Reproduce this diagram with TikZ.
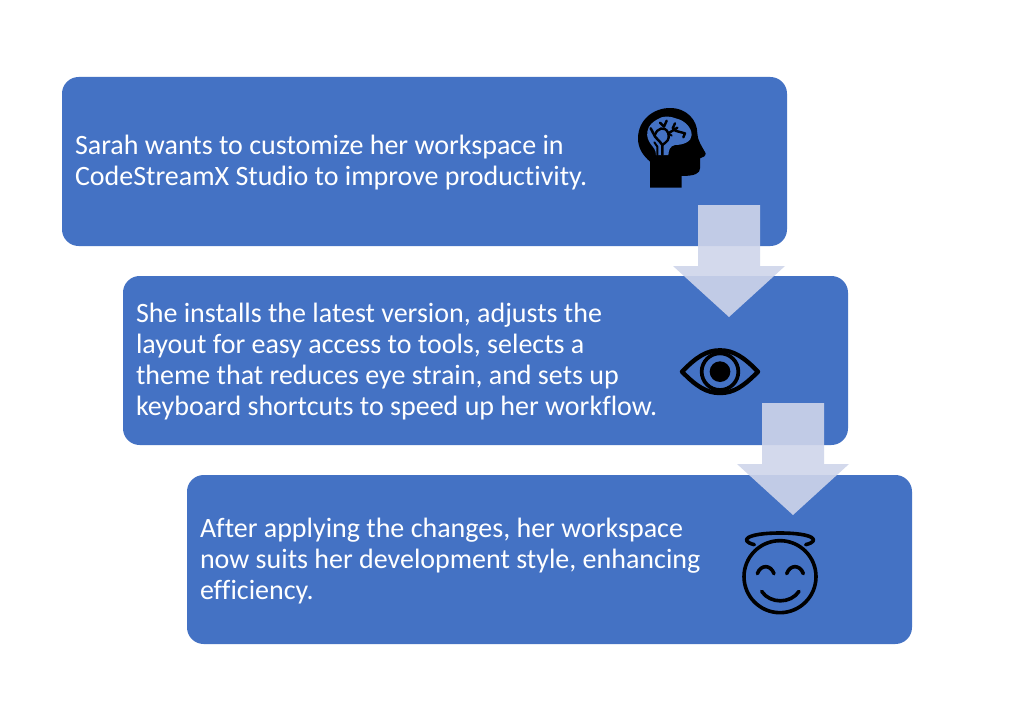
\documentclass[tikz,border=0pt]{standalone}
\usepackage{fontspec}
\setmainfont[Ligatures=NoCommon]{Carlito}
\definecolor{panelblue}{HTML}{4472C4}
\definecolor{arrowtint}{HTML}{CFD5EA}
\tikzset{
  panel/.style={fill=panelblue,rounded corners=12.5pt,minimum width=543.75pt,minimum height=126.75pt,inner sep=0pt},
  paneltext/.style={text width=524.25pt,inner xsep=9.75pt,inner ysep=0pt,align=flush left,text=white,
    font=\fontsize{21pt}{23.25pt}\selectfont,yshift=-1.1pt},
  downarrow/.style={fill=arrowtint,fill opacity=0.9},
  iconline/.style={draw=black,line cap=round,line join=round},
}
\begin{document}
\begin{tikzpicture}[x=0.75pt,y=-0.75pt]
\useasboundingbox[fill=white] (0,0) rectangle (1009,710);
\node[panel] (first) at (424.5,161.5) {};
\node[paneltext] (firsttext) at (first.center) {Sarah wants to customize her workspace in\\CodeStreamX Studio to improve productivity.};
\node[panel] (second) at (485.5,360.5) {};
\node[paneltext] (secondtext) at (second.center) {She installs the latest version, adjusts the\\layout for easy access to tools, selects a\\theme that reduces eye strain, and sets up\\keyboard shortcuts to speed up her workflow.};
\node[panel] (third) at (549.5,559.5) {};
\node[paneltext] (thirdtext) at (third.center) {After applying the changes, her workspace\\now suits her development style, enhancing\\efficiency.};
% brain-in-head icon
\begin{scope}[shift={(620,90)},scale=1/3]
\fill[black] (90,293) -- (90,215) .. controls (68,195) and (54,175) .. (54,145)
  .. controls (54,90) and (100,54) .. (150,54)
  .. controls (200,54) and (232,90) .. (232,130)
  .. controls (232,150) and (245,168) .. (257,190)
  .. controls (258,198) and (248,203) .. (240,205)
  -- (240,235) .. controls (240,250) and (225,258) .. (185,258) -- (185,293) -- cycle;
\fill[panelblue] (82,125) .. controls (85,105) and (100,95) .. (112,88)
  .. controls (130,76) and (150,78) .. (170,86)
  .. controls (190,90) and (215,110) .. (215,135)
  .. controls (215,155) and (190,165) .. (165,165)
  .. controls (150,168) and (146,180) .. (145,195)
  -- (108,195) .. controls (108,180) and (100,172) .. (92,162)
  .. controls (84,150) and (80,140) .. (82,125) -- cycle;
\draw[iconline,line width=1.9pt] (127,195) -- (127,165) .. controls (118,150) and (105,145) .. (100,130) (92,115) -- (100,130);
\draw[iconline,line width=1.8pt] (127,165) .. controls (140,155) and (150,150) .. (145,130) .. controls (135,105) and (110,115) .. (105,135);
\draw[iconline,line width=1.8pt] (120,98) -- (132,110) -- (140,92) (145,130) -- (172,113) (158,115) -- (165,100) (165,122) -- (195,130) -- (190,142);
\draw[iconline,line width=1.5pt] (112,195) -- (112,170) -- (103,157) (145,130) -- (155,137);
\end{scope}
% eye icon
\begin{scope}[shift={(660,200)},scale=1/3]
\draw[iconline,line width=3.3pt,fill=panelblue] (66,515) .. controls (110,470) and (140,451) .. (180,451)
  .. controls (220,451) and (250,470) .. (294,515)
  .. controls (250,560) and (220,579) .. (180,579)
  .. controls (140,579) and (110,560) .. (66,515) -- cycle;
\draw[line width=2.8pt,draw=black,fill=panelblue] (180,515) circle[radius=55];
\fill[black] (180,515) circle[radius=31];
\end{scope}
% halo smiley icon
\begin{scope}[shift={(725,520)},scale=1/3]
\draw[iconline,line width=2.7pt] (165,170) circle[radius=108];
\draw[iconline,line width=2.7pt] (88,74) .. controls (40,62) and (65,39) .. (165,39)
  .. controls (265,39) and (290,62) .. (242,74);
\draw[iconline,line width=2.7pt] (97,161) .. controls (107,133) and (137,133) .. (147,161);
\draw[iconline,line width=2.7pt] (185,161) .. controls (195,133) and (225,133) .. (235,161);
\draw[iconline,line width=2.7pt] (110,214) .. controls (135,252) and (197,252) .. (222,214);
\end{scope}
% block arrows
\fill[downarrow] (698,205) -- (760,205) -- (760,266) -- (785,266) -- (729,317) -- (673,266) -- (698,266) -- cycle;
\fill[downarrow] (762,403) -- (824,403) -- (824,464) -- (849,464) -- (793,515) -- (737,464) -- (762,464) -- cycle;
\end{tikzpicture}
\end{document}
